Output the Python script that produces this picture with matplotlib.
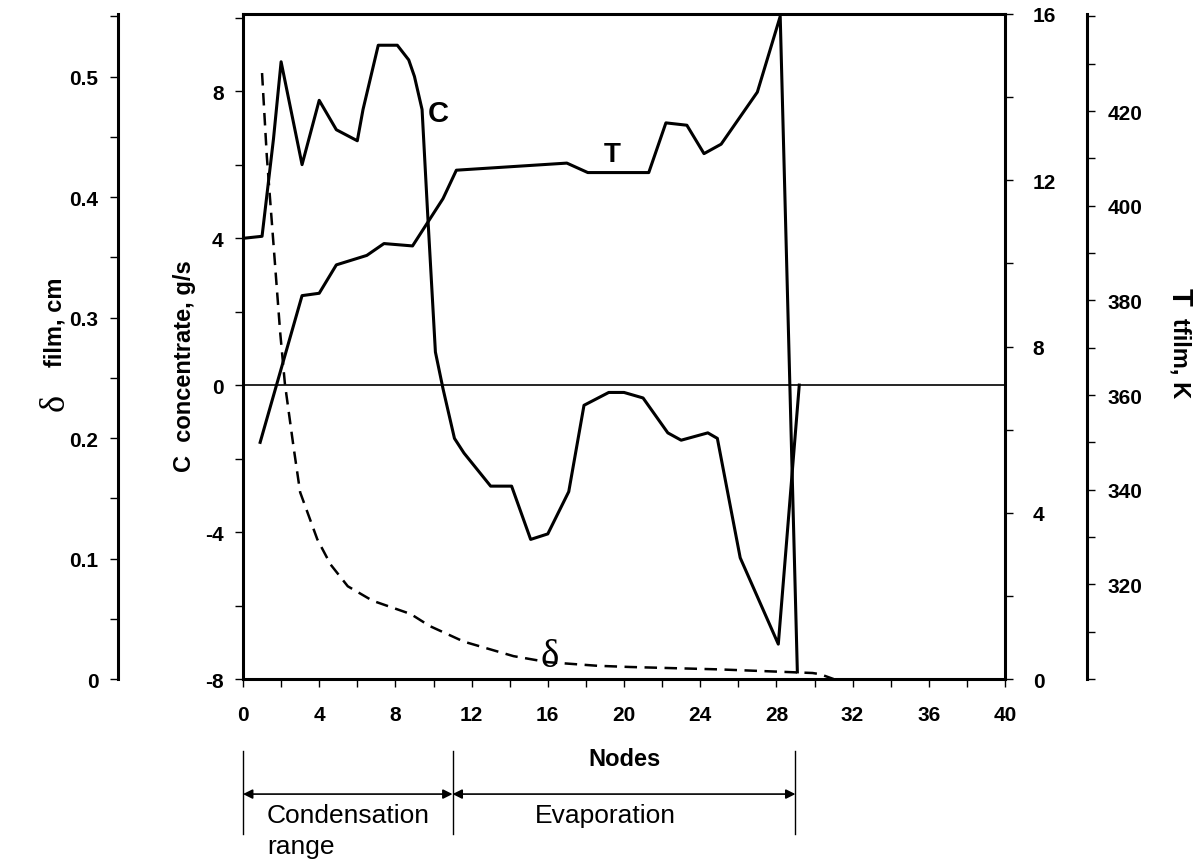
import matplotlib
matplotlib.use("Agg")
import matplotlib.pyplot as plt
from matplotlib.ticker import MultipleLocator

plt.rcParams['font.family'] = ['Liberation Sans', 'DejaVu Sans']
plt.rcParams['axes.unicode_minus'] = False

# C concentrate, g/s (left inner axis)
c_nodes = [0.1, 1.0, 1.6, 2.0, 3.1, 4.0, 4.9, 6.0, 6.3, 7.1, 8.1, 8.7, 9.0, 9.4,
           9.7, 10.1, 10.5, 11.1, 11.6, 13.0, 14.1, 15.1, 16.0, 17.1, 17.9, 19.2,
           20.0, 21.0, 22.3, 23.0, 24.4, 24.9, 26.1, 28.1, 29.2]
c_vals = [4.0, 4.05, 6.7, 8.8, 6.0, 7.75, 6.95, 6.65, 7.5, 9.25, 9.25, 8.85, 8.4, 7.5,
          4.6, 0.9, -0.1, -1.45, -1.85, -2.75, -2.75, -4.2, -4.05, -2.9, -0.55, -0.2,
          -0.2, -0.35, -1.3, -1.5, -1.3, -1.45, -4.7, -7.05, 0.0]

# T tfilm, K (far right axis)
t_nodes = [0.9, 3.1, 4.0, 4.9, 6.5, 7.4, 8.9, 10.5, 11.2, 17.0, 18.1, 21.3, 22.2,
           23.3, 24.2, 25.1, 27.0, 28.2, 29.1]
t_vals = [350, 381, 381.5, 387.5, 389.5, 392, 391.5, 401.5, 407.5, 409, 407, 407,
          417.5, 417, 411, 413, 424, 440, 301.5]

# delta film, cm (far left axis)
d_nodes = [1.0, 1.25, 1.5, 1.95, 2.2, 2.65, 3.0, 3.9, 4.6, 5.5, 6.8, 8.8, 9.8, 11.6,
           14.2, 16.0, 18.6, 20.3, 25.0, 29.9, 30.3, 31.0]
d_vals = [0.503, 0.434, 0.382, 0.288, 0.245, 0.193, 0.155, 0.116, 0.095, 0.077, 0.065,
          0.054, 0.044, 0.031, 0.019, 0.014, 0.011, 0.010, 0.008, 0.005, 0.004, 0.0]

region_bounds = [0, 11, 29]
region_names = ["Condensation\nrange", "Evaporation"]

fig = plt.figure(figsize=(12, 8.62), dpi=100)
ax = fig.add_axes([0.2025, 0.2111, 0.635, 0.7715])

lw_line = 2.2
lw_spine = 2.2
tick_fs = 15

ax.plot(c_nodes, c_vals, color='black', lw=lw_line, zorder=3)
ax.axhline(0, color='black', lw=1.2, zorder=2)
ax.set_xlim(0, 40)
ax.set_ylim(-8, 10.1)
ax.xaxis.set_major_locator(MultipleLocator(4))
ax.xaxis.set_minor_locator(MultipleLocator(2))
ax.set_yticks([-8, -4, 0, 4, 8])
ax.yaxis.set_minor_locator(MultipleLocator(2))
ax.tick_params(which='both', direction='out', length=6, width=1, labelsize=tick_fs, pad=8)
ax.tick_params(axis='x', pad=13)
for lab in ax.get_xticklabels() + ax.get_yticklabels():
    lab.set_fontweight('bold')
for s in ax.spines.values():
    s.set_linewidth(lw_spine)
ax.spines['right'].set_visible(False)

ax.text(10.25, 7.4, "C", fontsize=21, fontweight='bold', ha='center', va='center')
ax.text(19.4, 6.3, "T", fontsize=20, fontweight='bold', ha='center', va='center')
ax.text(16.1, -7.4, "δ", fontsize=28, family='Liberation Serif', ha='center', va='center')

# inner right axis 0..16
ax_r = ax.twinx()
ax_r.set_ylim(0, 16)
ax_r.yaxis.set_major_locator(MultipleLocator(4))
ax_r.yaxis.set_minor_locator(MultipleLocator(2))
ax_r.tick_params(which='both', direction='out', length=6, width=1, labelsize=tick_fs, pad=14)
for lab in ax_r.get_yticklabels():
    lab.set_fontweight('bold')
for k in ['left', 'top', 'bottom']:
    ax_r.spines[k].set_visible(False)
ax_r.spines['right'].set_linewidth(lw_spine)

# far right T axis
ax_t = ax.twinx()
ax_t.plot(t_nodes, t_vals, color='black', lw=lw_line, zorder=3)
ax_t.set_ylim(300, 440.5)
ax_t.set_yticks([320, 340, 360, 380, 400, 420])
ax_t.yaxis.set_minor_locator(MultipleLocator(10))
ax_t.spines['right'].set_position(('axes', 1.1076))
for k in ['left', 'top', 'bottom']:
    ax_t.spines[k].set_visible(False)
ax_t.spines['right'].set_linewidth(lw_spine)
ax_t.tick_params(which='both', direction='out', length=6, width=1, labelsize=tick_fs, pad=9)
for lab in ax_t.get_yticklabels():
    lab.set_fontweight('bold')

# far left delta axis
ax_d = ax.twinx()
ax_d.plot(d_nodes, d_vals, color='black', lw=1.8, ls=(0, (5, 3)), zorder=3)
ax_d.set_ylim(0, 0.552)
ax_d.set_yticks([0, 0.1, 0.2, 0.3, 0.4, 0.5])
ax_d.set_yticklabels(['0', '0.1', '0.2', '0.3', '0.4', '0.5'])
ax_d.yaxis.set_minor_locator(MultipleLocator(0.05))
ax_d.yaxis.tick_left()
ax_d.spines['left'].set_position(('axes', -0.164))
for k in ['right', 'top', 'bottom']:
    ax_d.spines[k].set_visible(False)
ax_d.spines['left'].set_visible(True)
ax_d.spines['left'].set_linewidth(lw_spine)
ax_d.tick_params(which='both', direction='out', length=6, width=1, labelsize=tick_fs, pad=8)
for lab in ax_d.get_yticklabels():
    lab.set_fontweight('bold')

# axis titles
fig.text(185 / 1200, 1 - 366 / 862, "C  concentrate, g/s", rotation=90, fontsize=17,
         fontweight='bold', ha='center', va='center')
fig.text(55 / 1200, 1 - 402 / 862, "δ", rotation=90, fontsize=26, family='Liberation Serif',
         ha='center', va='center')
fig.text(55 / 1200, 1 - 322 / 862, "film, cm", rotation=90, fontsize=17,
         fontweight='bold', ha='center', va='center')
fig.text(1180 / 1200, 1 - 297 / 862, "T", rotation=-90, fontsize=21,
         fontweight='bold', ha='center', va='center')
fig.text(1180 / 1200, 1 - 358 / 862, "tfilm, K", rotation=-90, fontsize=17,
         fontweight='bold', ha='center', va='center')

# Nodes label and region annotation under the axis
trans = ax.get_xaxis_transform()
ax.text(20, -0.12, "Nodes", transform=trans, fontsize=17, fontweight='bold',
        ha='center', va='center')
for xb in region_bounds:
    ax.plot([xb, xb], [-0.108, -0.233], transform=trans, color='black', lw=1,
            clip_on=False)
for i in range(len(region_bounds) - 1):
    ax.annotate("", xy=(region_bounds[i], -0.173), xytext=(region_bounds[i + 1], -0.173),
                xycoords=trans, textcoords=trans,
                arrowprops=dict(arrowstyle='<|-|>', color='black', lw=1.2,
                                mutation_scale=14, shrinkA=0, shrinkB=0))
ax.text(1.25, -0.186, region_names[0], transform=trans, fontsize=19,
        ha='left', va='top', linespacing=1.4)
ax.text(19.0, -0.186, region_names[1], transform=trans, fontsize=19,
        ha='center', va='top')

fig.savefig("out.png", dpi=100)
